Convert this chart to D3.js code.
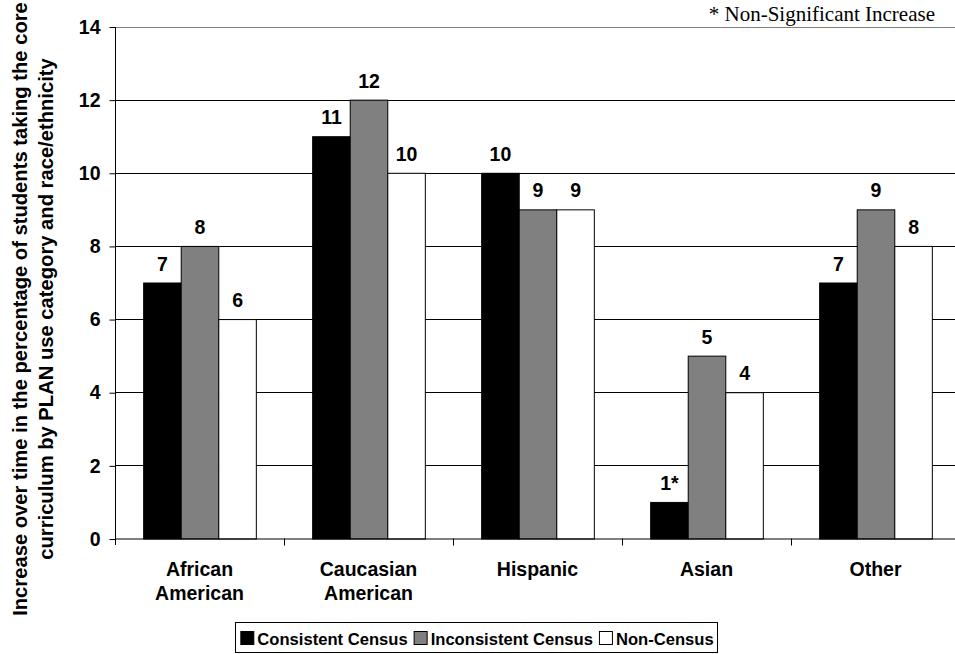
<!DOCTYPE html>
<html><head><meta charset="utf-8">
<script src="https://cdn.jsdelivr.net/npm/d3@7"></script>
<style>body{margin:0;background:#fff}svg{display:block}</style>
</head><body>
<script>
const categories = ["African American","Caucasian American","Hispanic","Asian","Other"];
const categoryLines = [["African","American"],["Caucasian","American"],["Hispanic"],["Asian"],["Other"]];
const seriesNames = ["Consistent Census","Inconsistent Census","Non-Census"];
const consistent = [7,11,10,1,7];
const inconsistent = [8,12,9,5,9];
const nonCensus = [6,10,9,4,8];
const consistentLabels = ["7","11","10","1*","7"];
const yTicks = [0,2,4,6,8,10,12,14];
const colors = ["#000000","#808080","#ffffff"];

(function(){
const W=955,H=654;
const svg=d3.select("body").append("svg").attr("width",W).attr("height",H);
const pLeft=115, pRight=960, pTop=26.5, pBottom=538.5;
const x=d3.scaleBand().domain(categories).range([pLeft,pRight]).padding(0);
const xs=d3.scaleBand().domain(seriesNames).range([0,x.bandwidth()]).paddingInner(0).paddingOuter(0.75);
const y=d3.scaleLinear().domain([0,14]).range([pBottom,pTop]);

const series=[consistent,inconsistent,nonCensus];
const labels=[consistentLabels,inconsistent.map(String),nonCensus.map(String)];

// gridlines
svg.append("g").selectAll("line").data(yTicks.filter(d=>d>0)).join("line")
 .attr("x1",pLeft).attr("x2",W).attr("y1",d=>Math.round(y(d))+0.5).attr("y2",d=>Math.round(y(d))+0.5)
 .attr("stroke",d=>d===14?"#808080":"#000").attr("stroke-width",1);

// bars
const font="Liberation Sans, Arial, sans-serif";
series.forEach((vals,si)=>{
  const g=svg.append("g");
  g.selectAll("rect").data(categories).join("rect")
   .attr("x",c=>x(c)+xs(seriesNames[si])+0.5)
   .attr("y",(c,i)=>y(vals[i])+0.5)
   .attr("width",xs.bandwidth())
   .attr("height",(c,i)=>y(0)-y(vals[i]))
   .attr("fill",colors[si]).attr("stroke","#000").attr("stroke-width",1);
  g.selectAll("text").data(categories).join("text")
   .attr("x",c=>x(c)+xs(seriesNames[si])+xs.bandwidth()/2+0.5)
   .attr("y",(c,i)=>y(vals[i])-12)
   .attr("text-anchor","middle").attr("font-family",font).attr("font-weight","bold").attr("font-size",19.5)
   .text((c,i)=>labels[si][i]);
});

// y axis
const yAxis=d3.axisLeft(y).tickValues(yTicks).tickSize(6).tickPadding(9).tickFormat(d3.format("d"));
const ya=svg.append("g").attr("transform",`translate(${pLeft+0.5},0.5)`).call(yAxis);
ya.select(".domain").attr("d",`M0,${pTop}V${pBottom+6}`).attr("stroke","#000");
ya.selectAll("text").attr("font-family",font).attr("font-weight","bold").attr("font-size",19.5).attr("fill","#000");
ya.selectAll("line").attr("stroke","#000");

// x axis baseline and ticks
svg.append("line").attr("x1",pLeft).attr("x2",W).attr("y1",pBottom+0.5).attr("y2",pBottom+0.5).attr("stroke","#000");
const bounds=categories.map(c=>x(c));
svg.append("g").selectAll("line").data(bounds.slice(1)).join("line")
 .attr("x1",d=>Math.round(d)+0.5).attr("x2",d=>Math.round(d)+0.5).attr("y1",pBottom).attr("y2",pBottom+7).attr("stroke","#000");

// category labels
categories.forEach((c,i)=>{
  const t=svg.append("text").attr("text-anchor","middle").attr("font-family",font).attr("font-weight","bold").attr("font-size",19.5);
  categoryLines[i].forEach((ln,j)=>t.append("tspan").attr("x",x(c)+x.bandwidth()/2).attr("y",576+j*24).text(ln));
});

// y title
const yt=svg.append("text").attr("transform","translate(0,309) rotate(-90)").attr("text-anchor","middle")
 .attr("font-family",font).attr("font-weight","bold").attr("font-size",20.2);
yt.append("tspan").attr("x",0).attr("y",27).text("Increase over time in the percentage of students taking the core");
yt.append("tspan").attr("x",0).attr("y",52.5).text("curriculum by PLAN use category and race/ethnicity");

// note
svg.append("text").attr("x",935).attr("y",20.5).attr("text-anchor","end")
 .attr("font-family","Liberation Serif, Times New Roman, serif").attr("font-size",21).text("* Non-Significant Increase");

// legend
const lg=svg.append("g");
const box=lg.append("rect").attr("y",622.5).attr("height",30).attr("fill","#fff").attr("stroke","#000");
let cx=0;
const items=lg.append("g");
seriesNames.forEach((n,i)=>{
  items.append("rect").attr("x",cx+0.5).attr("y",631.5).attr("width",13).attr("height",13).attr("fill",colors[i]).attr("stroke","#000");
  const t=items.append("text").attr("x",cx+17).attr("y",644.5).attr("font-family",font).attr("font-weight","bold").attr("font-size",16.6).text(n);
  cx+=17+t.node().getComputedTextLength()+6;
});
const totalW=cx-6;
const lx=477-totalW/2;
items.attr("transform",`translate(${lx},0)`);
box.attr("x",Math.round(lx-5)+0.5).attr("width",Math.round(totalW+9));
})();
</script>
</body></html>
